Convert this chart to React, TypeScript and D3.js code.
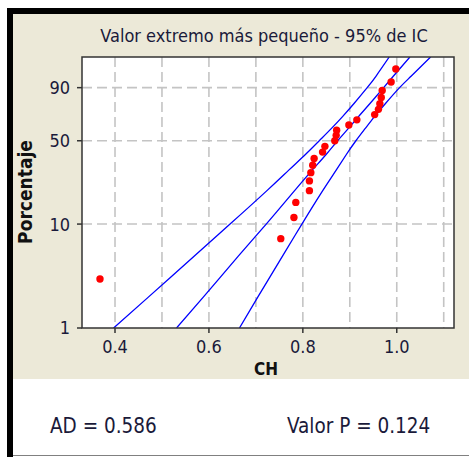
import React from 'react';
import * as d3 from 'd3';

// CH sample, sorted
const chValues = [0.368, 0.753, 0.781, 0.785, 0.814, 0.814, 0.817, 0.821, 0.824, 0.842, 0.847, 0.868, 0.871, 0.872, 0.898, 0.915, 0.953, 0.961, 0.964, 0.967, 0.969, 0.988, 0.998];
// percent each point is plotted at
const chPercent = [3.0, 7.3, 11.5, 15.8, 20.1, 24.4, 28.6, 32.9, 37.2, 41.5, 45.7, 50.0, 54.3, 58.5, 62.8, 67.1, 71.4, 75.6, 79.9, 84.2, 88.5, 92.7, 97.0];

// fitted line and 95% CI bounds, read at these percents
const ciPercent = [1, 2, 5, 10, 20, 30, 40, 50, 60, 70, 80, 90, 95, 99];
const fitCH = [0.531, 0.588, 0.663, 0.722, 0.782, 0.820, 0.850, 0.874, 0.897, 0.919, 0.943, 0.972, 0.993, 1.028];
const ciLower = [0.397, 0.471, 0.569, 0.645, 0.723, 0.770, 0.806, 0.835, 0.861, 0.885, 0.909, 0.937, 0.956, 0.984];
const ciUpper = [0.665, 0.704, 0.757, 0.798, 0.842, 0.871, 0.893, 0.913, 0.933, 0.953, 0.976, 1.006, 1.031, 1.072];

const xTicks = [0.4, 0.6, 0.8, 1.0];
const xGrid = [0.4, 0.5, 0.6, 0.7, 0.8, 0.9, 1.0, 1.1];
const yTicks = [1, 10, 50, 90];
const yGrid = [10, 50, 90];

const title = 'Valor extremo más pequeño - 95% de IC';
const xLabel = 'CH';
const yLabel = 'Porcentaje';
const statAD = 'AD = 0.586';
const statP = 'Valor P = 0.124';

const W = 469;
const H = 457;
const plot = { left: 82, right: 454, top: 57, bottom: 328 };
const font = "Tahoma, 'DejaVu Sans Condensed', 'DejaVu Sans', sans-serif";

// smallest extreme value probability scale
const sev = (p: number) => Math.log(-Math.log(1 - p / 100));

export default function App() {
  const x = d3.scaleLinear().domain([0.3297, 1.1219]).range([plot.left, plot.right]);
  const y = d3.scaleLinear().domain([sev(1), sev(99)]).range([plot.bottom, plot.top]);

  const band = (vals: number[]) =>
    d3.line<number>()
      .x((d) => x(d))
      .y((d, i) => y(sev(ciPercent[i])))
      .curve(d3.curveNatural)(vals) || '';

  return (
    <svg width={W} height={H} style={{ position: 'absolute', left: 0, top: 0, display: 'block' }} fontFamily={font}>
      <defs>
        <clipPath id="plotClip">
          <rect x={plot.left} y={plot.top} width={plot.right - plot.left} height={plot.bottom - plot.top} />
        </clipPath>
      </defs>
      <rect x={0} y={0} width={W} height={H} fill="#fff" />
      {/* window frame */}
      <rect x={13} y={14} width={W - 13} height={365} fill="#ECE9D8" />
      <rect x={7} y={8} width={W - 7} height={6} fill="#000" />
      <rect x={7} y={8} width={6} height={H - 8} fill="#000" />
      <line x1={13} x2={W} y1={455.5} y2={455.5} stroke="#808080" />

      <text x={264} y={42} textAnchor="middle" fontSize={18} fill="#1a1a3a">{title}</text>

      <rect x={plot.left} y={plot.top} width={plot.right - plot.left} height={plot.bottom - plot.top} fill="#fff" />

      <g stroke="#c4c4c4" strokeWidth={1.6} strokeDasharray="10,5">
        {xGrid.map((v) => (
          <line key={'gx' + v} x1={x(v)} x2={x(v)} y1={plot.top} y2={plot.bottom} />
        ))}
        {yGrid.map((p) => (
          <line key={'gy' + p} x1={plot.left} x2={plot.right} y1={y(sev(p))} y2={y(sev(p))} />
        ))}
      </g>

      <g clipPath="url(#plotClip)" fill="none" stroke="#0000ff" strokeWidth={1.3}>
        <path d={band(ciLower)} />
        <path d={band(fitCH)} />
        <path d={band(ciUpper)} />
      </g>

      <g fill="#ff0000">
        {chValues.map((v, i) => (
          <circle key={i} cx={x(v)} cy={y(sev(chPercent[i]))} r={3.7} />
        ))}
      </g>

      <rect x={plot.left} y={plot.top} width={plot.right - plot.left} height={plot.bottom - plot.top} fill="none" stroke="#333" strokeWidth={1.5} />

      {/* y axis */}
      <g fontSize={18} fill="#1a1a3a">
        {yTicks.map((p) => (
          <g key={'yt' + p}>
            <line x1={plot.left - 5} x2={plot.left} y1={y(sev(p))} y2={y(sev(p))} stroke="#333" strokeWidth={1.5} />
            <text x={70} y={y(sev(p))} dy="0.36em" textAnchor="end">{p}</text>
          </g>
        ))}
      </g>
      {/* x axis */}
      <g fontSize={18} fill="#1a1a3a">
        {xTicks.map((v) => (
          <g key={'xt' + v}>
            <line x1={x(v)} x2={x(v)} y1={plot.bottom} y2={plot.bottom + 5} stroke="#333" strokeWidth={1.5} />
            <text x={x(v)} y={353} textAnchor="middle">{d3.format('.1f')(v)}</text>
          </g>
        ))}
      </g>

      <text x={266} y={375} textAnchor="middle" fontSize={17} fontWeight="bold" fill="#111">{xLabel}</text>
      <text transform="translate(32,192) rotate(-90)" textAnchor="middle" fontSize={19} fontWeight="bold" fill="#111">{yLabel}</text>

      <text x={50} y={433} fontSize={20.5} fill="#1a1a3a">{statAD}</text>
      <text x={287} y={433} fontSize={20.5} fill="#1a1a3a">{statP}</text>
    </svg>
  );
}
